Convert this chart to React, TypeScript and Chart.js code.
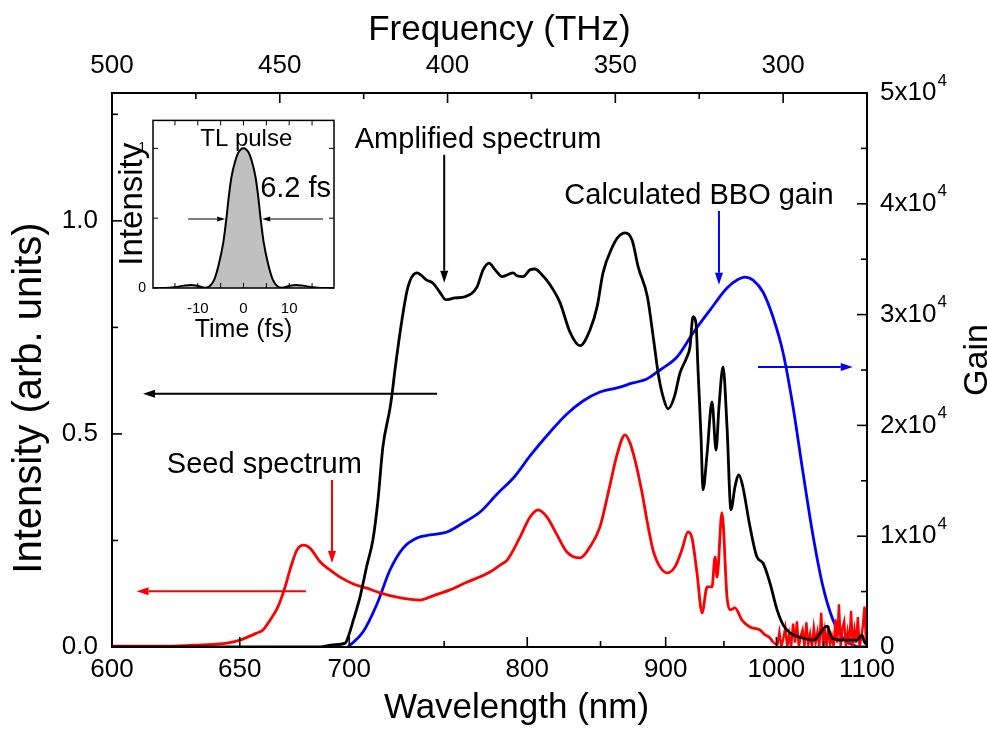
import React, { useEffect, useRef } from "react";
import { Chart, registerables } from "chart.js";

Chart.register(...registerables);

const C_NM_THZ = 299792.458; // wavelength (nm) * frequency (THz)
const FONT = "'Liberation Sans', Arial, Helvetica, sans-serif";

// ---------------- Main chart data ----------------
// Amplified spectrum (black, left axis)
const ampWl = [600, 660, 676.6, 685.9, 692.0, 698.0, 699.4, 702.0, 705.3, 708.8, 711.8, 714.4, 716.9, 720.6, 721.7, 723.2, 726.9, 730.1, 734.9, 740.2, 743.6, 747.5, 750.9, 756.1, 761.9, 769.0, 772.6, 776.2, 779.9, 784.2, 787.3, 791.0, 793.5, 797.3, 801.8, 805.0, 808.3, 814.9, 821.6, 828.4, 835.4, 842.4, 847.5, 851.8, 858.4, 862.9, 868.2, 873.5, 878.2, 885.4, 890.3, 894.4, 898.6, 902.0, 907.1, 911.8, 917.7, 920.2, 922.8, 925.3, 927.1, 929.7, 931.4, 935.0, 939.3, 942.9, 945.5, 949.2, 952.8, 956.4, 960.1, 963.8, 967.4, 974.2, 980.9, 986.7, 993.6, 1000.7, 1006.8, 1013.8, 1024.3, 1038.4, 1053.5, 1059.1, 1071.6, 1088.0, 1094.0, 1097.6, 1100];
const ampInt = [0, 0, 0, 0, 0.005, 0.009, 0.023, 0.063, 0.117, 0.192, 0.251, 0.345, 0.469, 0.56, 0.594, 0.65, 0.768, 0.845, 0.878, 0.861, 0.854, 0.833, 0.815, 0.819, 0.822, 0.845, 0.885, 0.901, 0.885, 0.869, 0.873, 0.878, 0.871, 0.869, 0.885, 0.887, 0.878, 0.85, 0.808, 0.739, 0.707, 0.744, 0.798, 0.878, 0.937, 0.962, 0.972, 0.955, 0.892, 0.822, 0.721, 0.634, 0.58, 0.559, 0.587, 0.643, 0.681, 0.704, 0.775, 0.761, 0.65, 0.493, 0.369, 0.455, 0.575, 0.462, 0.563, 0.657, 0.516, 0.322, 0.376, 0.404, 0.376, 0.282, 0.211, 0.197, 0.15, 0.087, 0.052, 0.033, 0.023, 0.016, 0.049, 0.021, 0.016, 0.016, 0.028, 0.009, 0.01];

// Seed spectrum (red, left axis)
const seedWl = [600, 620.6, 633.6, 644.6, 650, 657.4, 660.0, 663.1, 666.6, 669.8, 672.0, 675.2, 678.4, 681.2, 685.9, 690.6, 695.5, 702.0, 708.8, 715.4, 724.3, 736.6, 743.6, 753.3, 761.9, 776.8, 782.9, 787.3, 795.4, 801.8, 807.0, 812.9, 819.6, 826.3, 835.4, 842.4, 849.6, 856.9, 862.1, 868.2, 871.9, 875.7, 881.2, 885.0, 889.8, 895.4, 901.2, 907.6, 913.4, 918.5, 921.9, 926.2, 930.6, 935.0, 939.3, 942.0, 943.8, 948.2, 952.8, 955.5, 960.1, 966.6, 974.2, 983.8, 988, 993.6, 997, 1001, 1003, 1005, 1007, 1009, 1011, 1013, 1015, 1017, 1019, 1021, 1023, 1025, 1027, 1029, 1031, 1033, 1035, 1037, 1039, 1041, 1043, 1045, 1047, 1049, 1051, 1053, 1055, 1057, 1059, 1061, 1063, 1065, 1067, 1069, 1071, 1073, 1075, 1077, 1079, 1081, 1083, 1085, 1087, 1089, 1091, 1093, 1095, 1097, 1099, 1100];
const seedInt = [0.002, 0.002, 0.005, 0.009, 0.016, 0.033, 0.04, 0.063, 0.094, 0.141, 0.181, 0.228, 0.239, 0.232, 0.2, 0.181, 0.164, 0.148, 0.138, 0.127, 0.117, 0.11, 0.12, 0.134, 0.15, 0.176, 0.192, 0.204, 0.258, 0.305, 0.322, 0.305, 0.263, 0.223, 0.209, 0.235, 0.282, 0.38, 0.451, 0.498, 0.479, 0.439, 0.362, 0.298, 0.228, 0.188, 0.174, 0.188, 0.228, 0.27, 0.256, 0.174, 0.08, 0.141, 0.141, 0.211, 0.164, 0.315, 0.117, 0.087, 0.092, 0.063, 0.047, 0.04, 0.03, 0.021, 0.01, 0.005, 0.035, 0.0, 0.02, 0.045, 0.0, 0.03, 0.0, 0.055, 0.01, 0.06, 0.0, 0.025, 0.04, 0.0, 0.058, 0.005, 0.03, 0.0, 0.045, 0.01, 0.035, 0.0, 0.08, 0.01, 0.04, 0.0, 0.05, 0.005, 0.025, 0.0, 0.065, 0.01, 0.1, 0.0, 0.045, 0.06, 0.0, 0.035, 0.005, 0.085, 0.0, 0.04, 0.01, 0.07, 0.0, 0.02, 0.05, 0.095, 0.0, 0.09];
// the seed spectrum is smooth up to this wavelength and noisy beyond it
const seedNoiseStartNm = 997;

// Calculated BBO gain (blue, right axis)
const gainWl = [699.4, 706.8, 713.9, 720.6, 727.5, 734.9, 742.1, 751.5, 760.7, 770.8, 781.1, 791.7, 801.8, 814.9, 826.3, 837.5, 849.6, 862.1, 874.2, 885.0, 895.4, 909.3, 922.8, 937.5, 952.8, 962.0, 969.5, 977.1, 986.7, 996.6, 1006.8, 1017.0, 1027.5, 1038.4, 1049.1, 1060.2, 1071.6, 1083.2, 1091.6, 1100];
const gainVal = [0, 1350, 3880, 6950, 8930, 9840, 10110, 10380, 11190, 12180, 13810, 15340, 17240, 19400, 21030, 22200, 23010, 23380, 23830, 24190, 25000, 26170, 28340, 30410, 32400, 33120, 33390, 33120, 32040, 29780, 26530, 21660, 15700, 9930, 5420, 2440, 810, 180, 0, 0];

// Axis ticks
const bottomTicksNm = [600, 650, 700, 800, 900, 1000, 1100];
const bottomMinorNm = [750, 850, 950, 1050];
const topTicksTHz = [500, 450, 400, 350, 300];
const topMinorTHz = [475, 425, 375, 325, 275];
const leftTicks = [0, 0.5, 1.0];
const leftMinor = [0.25, 0.75, 1.25];
const rightTicks = [0, 10000, 20000, 30000, 40000, 50000];
const rightMinor = [5000, 15000, 25000, 35000, 45000];

// ---------------- Inset data ----------------
const pulseT = [-19.8, -17, -15, -13, -11.5, -10, -8.5, -7.5, -6.4, -5.4, -4.4, -3.7, -3.2, -2.6, -1.8, -1.2, -0.6, 0, 0.6, 1.2, 1.8, 2.6, 3.2, 3.7, 4.4, 5.4, 6.4, 7.5, 8.5, 10, 11.5, 13, 15, 17, 19.8];
const pulseI = [0, 0, 0.006, 0.017, 0.022, 0.015, 0.002, 0.01, 0.06, 0.17, 0.33, 0.51, 0.66, 0.8, 0.91, 0.965, 0.992, 1, 0.992, 0.965, 0.91, 0.8, 0.66, 0.51, 0.33, 0.17, 0.06, 0.01, 0.002, 0.015, 0.022, 0.017, 0.006, 0, 0];
const insetXTicks = [-10, 0, 10];
const insetXMinor = [-15, -10, -5, 0, 5, 10, 15];
const insetYTicks = [0, 1];
const insetYMinor = [0, 0.5, 1];

const toXY = (wl: number[], v: number[]) => wl.map((w, i) => ({ x: C_NM_THZ / w, y: v[i] }));

function drawArrow(ctx: CanvasRenderingContext2D, x1: number, y1: number, x2: number, y2: number, color: string, lw: number, headLen: number, headW: number) {
  ctx.save();
  ctx.strokeStyle = color;
  ctx.fillStyle = color;
  ctx.lineWidth = lw;
  const ang = Math.atan2(y2 - y1, x2 - x1);
  const bx = x2 - headLen * Math.cos(ang);
  const by = y2 - headLen * Math.sin(ang);
  ctx.beginPath();
  ctx.moveTo(x1, y1);
  ctx.lineTo(bx, by);
  ctx.stroke();
  ctx.beginPath();
  ctx.moveTo(x2, y2);
  ctx.lineTo(bx + headW * Math.sin(ang), by - headW * Math.cos(ang));
  ctx.lineTo(bx - headW * Math.sin(ang), by + headW * Math.cos(ang));
  ctx.closePath();
  ctx.fill();
  ctx.restore();
}

const mainDecor = {
  id: "mainDecor",
  afterDraw(chart: any) {
    const { ctx, chartArea: a, scales } = chart;
    const sx = scales.x, sx2 = scales.x2, sy = scales.y, sy2 = scales.y2;
    ctx.save();
    ctx.strokeStyle = "#000";
    ctx.lineWidth = 2;
    ctx.strokeRect(a.left, a.top, a.right - a.left, a.bottom - a.top);
    ctx.lineWidth = 1.6;
    const seg = (x1: number, y1: number, x2: number, y2: number) => {
      ctx.beginPath();
      ctx.moveTo(x1, y1);
      ctx.lineTo(x2, y2);
      ctx.stroke();
    };
    const MAJ = 10, MIN = 6;
    bottomTicksNm.forEach((nm) => { const p = sx.getPixelForValue(C_NM_THZ / nm); seg(p, a.bottom, p, a.bottom - MAJ); });
    bottomMinorNm.forEach((nm) => { const p = sx.getPixelForValue(C_NM_THZ / nm); seg(p, a.bottom, p, a.bottom - MIN); });
    topTicksTHz.forEach((f) => { const p = sx2.getPixelForValue(f); seg(p, a.top, p, a.top + MAJ); });
    topMinorTHz.forEach((f) => { const p = sx2.getPixelForValue(f); seg(p, a.top, p, a.top + MIN); });
    leftTicks.forEach((v) => { const p = sy.getPixelForValue(v); seg(a.left, p, a.left + MAJ, p); });
    leftMinor.forEach((v) => { const p = sy.getPixelForValue(v); seg(a.left, p, a.left + MIN, p); });
    rightTicks.forEach((v) => { const p = sy2.getPixelForValue(v); seg(a.right, p, a.right - MAJ, p); });
    rightMinor.forEach((v) => { const p = sy2.getPixelForValue(v); seg(a.right, p, a.right - MIN, p); });

    // Axis titles
    ctx.fillStyle = "#000";
    ctx.textAlign = "center";
    ctx.textBaseline = "middle";
    ctx.font = `35px ${FONT}`;
    ctx.fillText("Wavelength (nm)", (a.left + a.right) / 2 + 27, a.bottom + 61);
    ctx.fillText("Frequency (THz)", (a.left + a.right) / 2 + 10, a.top - 63);
    ctx.save();
    ctx.translate(a.left - 82, (a.top + a.bottom) / 2 + 28);
    ctx.rotate(-Math.PI / 2);
    ctx.font = `40px ${FONT}`;
    ctx.fillText("Intensity (arb. units)", 0, 0);
    ctx.restore();

    // Right axis labels with superscripts
    ctx.textBaseline = "middle";
    ctx.textAlign = "left";
    rightTicks.forEach((v) => {
      const p = sy2.getPixelForValue(v);
      const lx = a.right + 13;
      if (v === 0) {
        ctx.font = `26px ${FONT}`;
        ctx.fillText("0", lx, p);
      } else {
        const base = `${v / 10000}x10`;
        ctx.font = `26px ${FONT}`;
        ctx.fillText(base, lx, p);
        const w = ctx.measureText(base).width;
        ctx.font = `17px ${FONT}`;
        ctx.fillText("4", lx + w + 1, p - 12);
      }
    });
    // Right axis title
    ctx.save();
    ctx.translate(a.right + 111, (a.top + a.bottom) / 2 - 10);
    ctx.rotate(-Math.PI / 2);
    ctx.textAlign = "center";
    ctx.textBaseline = "middle";
    ctx.font = `34px ${FONT}`;
    ctx.fillText("Gain", 0, 0);
    ctx.restore();

    // Annotations (positions in data coordinates)
    const X = (nm: number) => sx.getPixelForValue(C_NM_THZ / nm);
    const Y = (v: number) => sy.getPixelForValue(v);
    ctx.font = `29px ${FONT}`;
    ctx.textAlign = "center";
    ctx.textBaseline = "middle";
    ctx.fillStyle = "#000";
    ctx.fillText("Amplified spectrum", X(769.6), Y(1.19));
    ctx.fillText("Calculated BBO gain", X(927.9), Y(1.059));
    ctx.fillText("Seed spectrum", X(660.6), Y(0.427));

    drawArrow(ctx, X(750), Y(1.155), X(750), Y(0.855), "#000", 2, 12, 4);
    drawArrow(ctx, X(746), Y(0.594), X(611.4), Y(0.594), "#000", 2, 12, 4);
    drawArrow(ctx, X(691.6), Y(0.392), X(691.6), Y(0.197), "#ff0000", 2, 12, 4);
    drawArrow(ctx, X(679.3), Y(0.131), X(609), Y(0.131), "#ff0000", 2, 12, 4);
    drawArrow(ctx, X(945.5), Y(1.023), X(945.5), Y(0.85), "#0000ff", 2, 12, 4);
    drawArrow(ctx, X(981.9), Y(0.657), X(1083), Y(0.657), "#0000ff", 2, 12, 4);
    ctx.restore();
  },
};

const insetDecor = {
  id: "insetDecor",
  afterDraw(chart: any) {
    const { ctx, chartArea: a, scales } = chart;
    const sx = scales.x, sy = scales.y;
    ctx.save();
    ctx.strokeStyle = "#000";
    ctx.lineWidth = 1.5;
    ctx.strokeRect(a.left, a.top, a.right - a.left, a.bottom - a.top);
    ctx.lineWidth = 1;
    const seg = (x1: number, y1: number, x2: number, y2: number) => {
      ctx.beginPath();
      ctx.moveTo(x1, y1);
      ctx.lineTo(x2, y2);
      ctx.stroke();
    };
    insetXMinor.forEach((t) => {
      const p = sx.getPixelForValue(t);
      seg(p, a.bottom, p, a.bottom - 5);
      seg(p, a.top, p, a.top + 5);
    });
    insetYMinor.forEach((v) => {
      const p = sy.getPixelForValue(v);
      seg(a.left, p, a.left + 5, p);
      seg(a.right, p, a.right - 5, p);
    });
    ctx.fillStyle = "#000";
    ctx.textAlign = "center";
    ctx.textBaseline = "middle";
    ctx.font = `24px ${FONT}`;
    ctx.fillText("TL pulse", sx.getPixelForValue(0.6), sy.getPixelForValue(1.063));
    ctx.font = `29px ${FONT}`;
    ctx.fillText("6.2 fs", sx.getPixelForValue(11.4), sy.getPixelForValue(0.706));
    drawArrow(ctx, sx.getPixelForValue(-12.1), sy.getPixelForValue(0.494), sx.getPixelForValue(-4.0), sy.getPixelForValue(0.494), "#000", 1, 8, 2.5);
    drawArrow(ctx, sx.getPixelForValue(17.4), sy.getPixelForValue(0.494), sx.getPixelForValue(4.1), sy.getPixelForValue(0.494), "#000", 1, 8, 2.5);
    ctx.restore();
  },
};

export default function App() {
  const mainRef = useRef<HTMLCanvasElement>(null);
  const insetRef = useRef<HTMLCanvasElement>(null);

  useEffect(() => {
    const tickFont = { family: FONT, size: 26 };
    const seedAll = toXY(seedWl, seedInt);
    const cut = seedWl.findIndex((w) => w >= seedNoiseStartNm);
    const seedSmooth = seedAll.slice(0, cut + 1);
    const seedNoisy = seedAll.slice(cut);
    const main = new Chart(mainRef.current as HTMLCanvasElement, {
      type: "line",
      data: {
        datasets: [
          { label: "Amplified spectrum", data: toXY(ampWl, ampInt), borderColor: "#000000", borderWidth: 2.8, pointRadius: 0, cubicInterpolationMode: "monotone", xAxisID: "x", yAxisID: "y", fill: false },
          { label: "Seed spectrum", data: seedSmooth, borderColor: "#ff0000", borderWidth: 2.8, pointRadius: 0, cubicInterpolationMode: "monotone", xAxisID: "x", yAxisID: "y", fill: false },
          { label: "Seed spectrum (noise)", data: seedNoisy, borderColor: "#ff0000", borderWidth: 2.4, pointRadius: 0, tension: 0, xAxisID: "x", yAxisID: "y", fill: false },
          { label: "Calculated BBO gain", data: toXY(gainWl, gainVal), borderColor: "#0000ff", borderWidth: 2.8, pointRadius: 0, cubicInterpolationMode: "monotone", xAxisID: "x", yAxisID: "y2", fill: false },
        ],
      } as any,
      options: {
        responsive: false,
        animation: false,
        devicePixelRatio: 1,
        layout: { padding: { left: 0, right: 120, top: 0, bottom: 0 } },
        plugins: { legend: { display: false }, tooltip: { enabled: false } },
        elements: { point: { radius: 0 } },
        scales: {
          x: {
            type: "linear",
            position: "bottom",
            min: C_NM_THZ / 1100,
            max: C_NM_THZ / 600,
            reverse: true,
            afterFit: (s: any) => { s.height = 82; },
            afterBuildTicks: (s: any) => { s.ticks = bottomTicksNm.map((nm) => ({ value: C_NM_THZ / nm })); },
            ticks: { callback: (v: any) => String(Math.round(C_NM_THZ / Number(v))), font: tickFont, color: "#000", padding: 7, maxRotation: 0, autoSkip: false },
            grid: { display: false, drawTicks: false },
            border: { display: false },
            title: { display: false },
          },
          x2: {
            type: "linear",
            position: "top",
            min: 275,
            max: 500,
            reverse: true,
            afterFit: (s: any) => { s.height = 93; },
            afterBuildTicks: (s: any) => { s.ticks = topTicksTHz.map((f) => ({ value: f })); },
            ticks: { callback: (v: any) => String(v), font: tickFont, color: "#000", padding: 12, maxRotation: 0, autoSkip: false },
            grid: { display: false, drawTicks: false },
            border: { display: false },
            title: { display: false },
          },
          y: {
            type: "linear",
            position: "left",
            min: 0,
            max: 1.3,
            afterFit: (s: any) => { s.width = 112; },
            afterBuildTicks: (s: any) => { s.ticks = leftTicks.map((v) => ({ value: v })); },
            ticks: { callback: (v: any) => Number(v).toFixed(1), font: tickFont, color: "#000", padding: 14 },
            grid: { display: false, drawTicks: false },
            border: { display: false },
            title: { display: false },
          },
          y2: {
            type: "linear",
            position: "right",
            display: false,
            min: 0,
            max: 50000,
          },
        },
      } as any,
      plugins: [mainDecor],
    });

    const inset = new Chart(insetRef.current as HTMLCanvasElement, {
      type: "line",
      data: {
        datasets: [
          { label: "TL pulse", data: pulseT.map((t, i) => ({ x: t, y: pulseI[i] })), borderColor: "#000", borderWidth: 2, backgroundColor: "#c0c0c0", fill: "origin", pointRadius: 0, cubicInterpolationMode: "monotone" },
        ],
      } as any,
      options: {
        responsive: false,
        animation: false,
        devicePixelRatio: 1,
        layout: { padding: { left: 0, right: 11, top: 8, bottom: 0 } },
        plugins: { legend: { display: false }, tooltip: { enabled: false } },
        scales: {
          x: {
            type: "linear",
            position: "bottom",
            min: -19.8,
            max: 19.8,
            afterFit: (s: any) => { s.height = 62; },
            afterBuildTicks: (s: any) => { s.ticks = insetXTicks.map((v) => ({ value: v })); },
            ticks: { callback: (v: any) => String(v), font: { family: FONT, size: 15 }, color: "#000", padding: 12, maxRotation: 0, autoSkip: false },
            grid: { display: false, drawTicks: false },
            border: { display: false },
            title: { display: true, text: "Time (fs)", font: { family: FONT, size: 25 }, color: "#000", padding: { top: 0, bottom: 5 } },
          },
          y: {
            type: "linear",
            position: "left",
            min: 0,
            max: 1.2,
            afterFit: (s: any) => { s.width = 53; },
            afterBuildTicks: (s: any) => { s.ticks = insetYTicks.map((v) => ({ value: v })); },
            ticks: { callback: (v: any) => String(v), font: { family: FONT, size: 14 }, color: "#000", padding: 7 },
            grid: { display: false, drawTicks: false },
            border: { display: false },
            title: { display: true, text: "Intensity", font: { family: FONT, size: 33 }, color: "#000", padding: { top: 13, bottom: 0 } },
          },
        },
      } as any,
      plugins: [insetDecor],
    });

    return () => {
      main.destroy();
      inset.destroy();
    };
  }, []);

  return (
    <div style={{ position: "absolute", left: 0, top: 0, width: 987, height: 729, background: "#ffffff" }}>
      <canvas ref={mainRef} width={987} height={729} style={{ position: "absolute", left: 0, top: 0 }} />
      <canvas ref={insetRef} width={245} height={245} style={{ position: "absolute", left: 100, top: 105 }} />
    </div>
  );
}
